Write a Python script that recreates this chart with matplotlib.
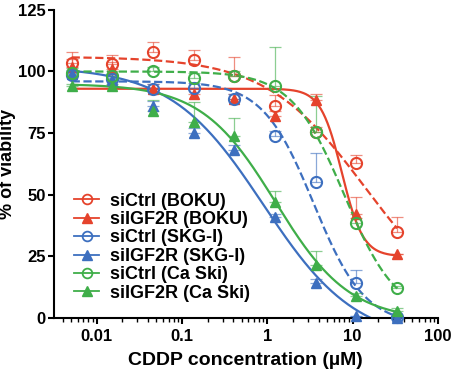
import matplotlib.pyplot as plt
import numpy as np

plt.rcParams['font.family'] = ['Liberation Sans', 'DejaVu Sans']

# CDDP concentrations (uM), 3-fold dilution
conc = [0.0051, 0.0152, 0.0457, 0.137, 0.412, 1.23, 3.70, 11.1, 33.3]

labels = ['siCtrl (BOKU)', 'siIGF2R (BOKU)', 'siCtrl (SKG-I)',
          'siIGF2R (SKG-I)', 'siCtrl (Ca Ski)', 'siIGF2R (Ca Ski)']
colors = ['#e5432c', '#e5432c', '#3d6fbf', '#3d6fbf', '#3fae49', '#3fae49']

# mean viability (%)
boku_ctrl = [103.5, 103, 108, 104.5, 98, 86, 75.5, 63, 35]
boku_igf = [102, 101, 93, 91, 89, 82, 88.5, 42, 26]
skg_ctrl = [98.5, 97, 93, 93.5, 89, 74, 55, 14, 0.5]
skg_igf = [99, 96.5, 86, 75, 68, 41, 14, 1, 0]
caski_ctrl = [99.5, 98, 100, 97.5, 98, 94, 75.5, 38.5, 12]
caski_igf = [94, 94, 84, 79.5, 74, 47, 21.5, 9, 3]

# upper error (SD)
boku_ctrl_err = [4.5, 3.5, 4, 4.3, 8, 4.5, 2, 3, 6]
boku_igf_err = [3, 3, 2, 2, 2, 2, 2.5, 7, 0]
skg_ctrl_err = [2, 2, 2, 2, 2, 2, 12, 5.5, 0]
skg_igf_err = [1, 1, 2, 2, 2, 1, 2, 0, 0]
caski_ctrl_err = [2, 2, 2, 2, 2, 16, 14.5, 2, 1]
caski_igf_err = [1, 1, 4.5, 8, 7, 4.5, 5.5, 1, 1]

# 4PL fit parameters: top, bottom, EC50, hill
fits = [(106, 0, 14, 0.75),
        (93, 25, 7.5, 3.5),
        (96, -3, 3.5, 1.45),
        (102, -10, 0.9, 0.8),
        (100, 0, 8, 1.4),
        (95, -1, 1.25, 1.0)]

means = [boku_ctrl, boku_igf, skg_ctrl, skg_igf, caski_ctrl, caski_igf]
errs = [boku_ctrl_err, boku_igf_err, skg_ctrl_err, skg_igf_err, caski_ctrl_err, caski_igf_err]

fig = plt.figure(figsize=(4.57, 3.79), dpi=100)
ax = fig.add_axes([0.118, 0.161, 0.840, 0.813])

xx = np.logspace(np.log10(conc[0]), np.log10(conc[-1]), 300)
x = np.array(conc)
handles = []
for i in range(6):
    top, bot, ec50, h = fits[i]
    yfit = bot + (top - bot) / (1 + (xx / ec50) ** h)
    ls = '--' if i % 2 == 0 else '-'
    ax.plot(xx, yfit, color=colors[i], ls=ls, lw=1.6, zorder=2)
    e = np.array(errs[i])
    ax.errorbar(x, means[i], yerr=[np.zeros_like(e), e], fmt='none',
                ecolor=colors[i], elinewidth=0.9, capsize=4, capthick=0.9,
                alpha=0.6, zorder=3, clip_on=False)
    if i % 2 == 0:
        ax.plot(x, means[i], 'o', mfc='none', mec=colors[i], mew=1.5, ms=8,
                zorder=4, clip_on=False)
        hd, = ax.plot([], [], color=colors[i], marker='o', mfc='none',
                      mec=colors[i], mew=1.3, ms=7, lw=1.3)
    else:
        ax.plot(x, means[i], '^', color=colors[i], ms=6.5, zorder=4, clip_on=False)
        hd, = ax.plot([], [], color=colors[i], marker='^', ms=6.5, lw=1.3)
    handles.append(hd)

ax.set_xscale('log')
ax.set_xlim(0.00316, 100)
ax.set_ylim(0, 125)
ax.set_yticks([0, 25, 50, 75, 100, 125])
ax.set_xticks([0.01, 0.1, 1, 10, 100])
ax.set_xticklabels(['0.01', '0.1', '1', '10', '100'])

for s in ['top', 'right']:
    ax.spines[s].set_visible(False)
for s in ['left', 'bottom']:
    ax.spines[s].set_linewidth(1.5)
ax.tick_params(which='major', direction='out', length=4, width=1.5, labelsize=12, pad=2)
ax.tick_params(which='minor', direction='out', length=3, width=1.0)
ax.tick_params(axis='x', pad=4)
for t in ax.get_xticklabels() + ax.get_yticklabels():
    t.set_fontweight('bold')

ax.set_ylabel('% of viability', fontsize=13, fontweight='bold', labelpad=1)
ax.set_xlabel('CDDP concentration (µM)', fontsize=14, fontweight='bold', labelpad=6)

ax.legend(handles, labels, loc='lower left', bbox_to_anchor=(0.01, 0.0),
          frameon=False, prop={'weight': 'bold', 'size': 13},
          handlelength=1.4, handletextpad=0.6, labelspacing=0.08)

fig.savefig('out.png', dpi=100)
